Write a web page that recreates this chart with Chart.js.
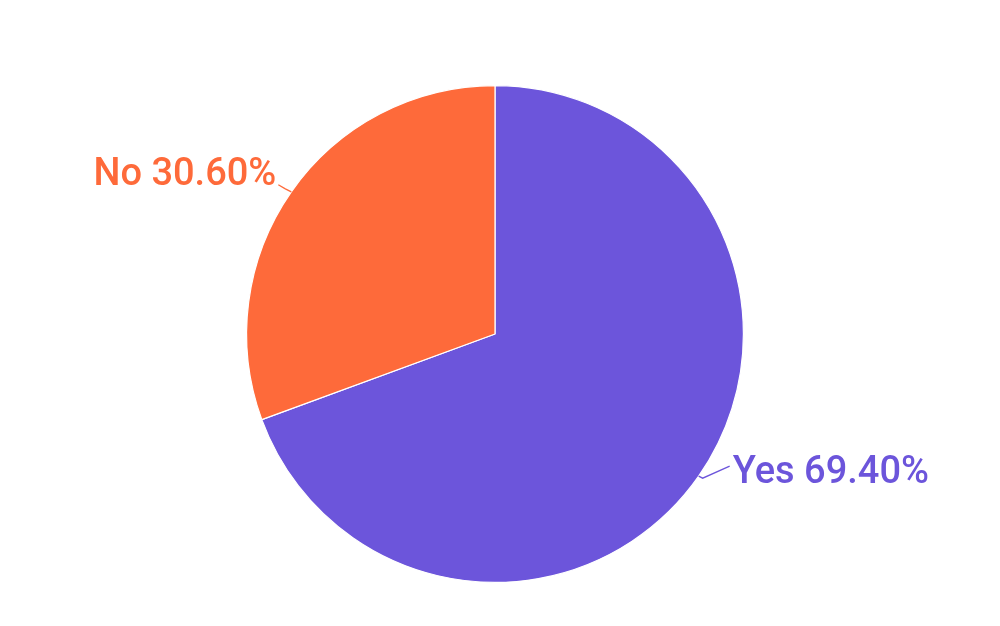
<!DOCTYPE html>
<html>
<head>
<meta charset="utf-8">
<script src="https://cdn.jsdelivr.net/npm/chart.js@4.4.1/dist/chart.umd.min.js"></script>
<style>
  html, body { margin: 0; padding: 0; background: #ffffff; }
  #wrap { width: 1000px; height: 626px; position: relative; }
</style>
</head>
<body>
<div id="wrap"><canvas id="c" width="1000" height="626"></canvas></div>
<script>
const categories = ['Yes', 'No'];
const values = [69.4, 30.6];
const valueLabels = ['69.40%', '30.60%'];
const colors = ['#6C55DB', '#FE6A3A'];

// connector shape per slice: offsets relative to edge point (kink, end), text alignment & baseline offset
const labelStyle = [
  { kink: [4, 2], end: [31, -10], align: 'left', dx: 3, dy: 17 },
  { kink: [-6, -3], end: [-13, -7], align: 'right', dx: -2, dy: 0 }
];

const labelPlugin = {
  id: 'pieLabels',
  afterDatasetsDraw(chart) {
    const ctx = chart.ctx;
    const meta = chart.getDatasetMeta(0);
    meta.data.forEach((arc, i) => {
      const p = arc.getProps(['x', 'y', 'startAngle', 'endAngle', 'outerRadius'], true);
      const mid = (p.startAngle + p.endAngle) / 2;
      const ex = p.x + Math.cos(mid) * p.outerRadius;
      const ey = p.y + Math.sin(mid) * p.outerRadius;
      const s = labelStyle[i];
      ctx.save();
      ctx.strokeStyle = colors[i];
      ctx.lineWidth = 1.3;
      ctx.beginPath();
      ctx.moveTo(ex, ey);
      ctx.lineTo(ex + s.kink[0], ey + s.kink[1]);
      ctx.lineTo(ex + s.end[0], ey + s.end[1]);
      ctx.stroke();
      ctx.fillStyle = colors[i];
      ctx.font = '500 38px Roboto';
      ctx.textAlign = s.align;
      ctx.textBaseline = 'alphabetic';
      ctx.fillText(categories[i] + ' ' + valueLabels[i], ex + s.end[0] + s.dx, ey + s.end[1] + s.dy);
      ctx.restore();
    });
  }
};

new Chart(document.getElementById('c'), {
  type: 'pie',
  data: {
    labels: categories,
    datasets: [{
      data: values,
      backgroundColor: colors,
      borderColor: '#ffffff',
      borderWidth: 1.2,
      hoverOffset: 0
    }]
  },
  options: {
    responsive: false,
    animation: false,
    events: [],
    layout: { padding: { top: 85, bottom: 43, left: 0, right: 10 } },
    plugins: {
      legend: { display: false },
      tooltip: { enabled: false },
      title: { display: false }
    }
  },
  plugins: [labelPlugin]
});
</script>
</body>
</html>
